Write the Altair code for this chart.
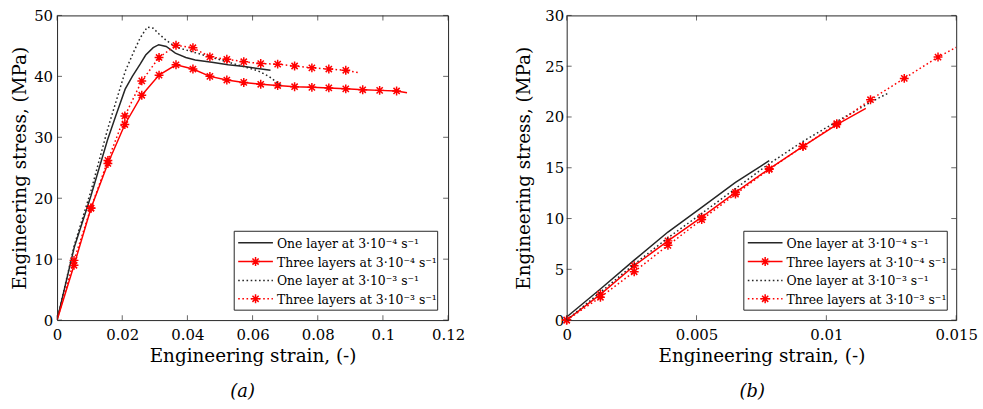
import altair as alt
import pandas as pd

FONT = "DejaVu Serif"
INK = "#262626"
RED = "#ff0000"

# ---------------- Panel (a): full tensile curves ----------------
a_one_slow_strain = [0, 0.0053, 0.0104, 0.0155, 0.018, 0.0209, 0.0231, 0.0255, 0.0272,
                     0.0295, 0.0312, 0.0335, 0.0363, 0.0395, 0.0424, 0.0475, 0.0525,
                     0.0575, 0.0627, 0.0655]
a_one_slow_stress = [0, 12.0, 20.4, 29.6, 33.5, 37.9, 40.0, 42.0, 43.5,
                     44.7, 45.2, 44.9, 43.8, 43.1, 42.7, 42.3, 41.9,
                     41.6, 41.2, 41.0]

a_one_fast_strain = [0, 0.0053, 0.0104, 0.0155, 0.0209, 0.0235, 0.0255, 0.0277, 0.0295,
                     0.0312, 0.0335, 0.0365, 0.0417, 0.0469, 0.0521, 0.0573, 0.0617,
                     0.065, 0.0678, 0.069]
a_one_fast_stress = [0, 12.3, 21.2, 31.3, 40.8, 44.0, 46.3, 48.1, 47.9,
                     47.0, 45.9, 44.8, 44.0, 43.2, 42.4, 41.6, 40.9,
                     40.0, 38.9, 38.3]

a_three_slow_strain = [0, 0.0052, 0.0104, 0.0156, 0.0208, 0.026, 0.0313, 0.0365, 0.0417,
                       0.0469, 0.0521, 0.0573, 0.0625, 0.0677, 0.0729, 0.0782, 0.0834,
                       0.0886, 0.0938, 0.099, 0.1042, 0.1074]
a_three_slow_stress = [0, 9.0, 18.35, 25.7, 32.1, 36.9, 40.2, 41.9, 41.2,
                       40.0, 39.4, 39.0, 38.7, 38.5, 38.3, 38.2, 38.1,
                       37.95, 37.8, 37.7, 37.6, 37.3]
a_three_slow_marked = [False] + [True] * 20 + [False]

a_three_fast_strain = [0, 0.0052, 0.0104, 0.0156, 0.0208, 0.026, 0.0313, 0.0365, 0.0417,
                       0.0469, 0.0521, 0.0573, 0.0625, 0.0677, 0.0729, 0.0782, 0.0834,
                       0.0886, 0.0927]
a_three_fast_stress = [0, 9.8, 18.4, 26.2, 33.5, 39.25, 43.1, 45.1, 44.7,
                       43.2, 42.8, 42.4, 42.1, 42.0, 41.7, 41.4, 41.2,
                       41.0, 40.6]
a_three_fast_marked = [False] + [True] * 17 + [False]

# ---------------- Panel (b): elastic region ----------------
b_one_slow_strain = [0, 0.0013, 0.0026, 0.0039, 0.0052, 0.0065, 0.0078]
b_one_slow_stress = [0.3, 3.06, 5.9, 8.67, 11.1, 13.55, 15.7]

b_one_fast_strain = [0, 0.0013, 0.0026, 0.0039, 0.0052, 0.0065, 0.0078, 0.0091,
                     0.0104, 0.0117, 0.01238]
b_one_fast_stress = [0, 2.75, 5.5, 8.1, 10.5, 12.95, 15.4, 17.6, 19.55, 21.45, 22.35]

b_three_slow_strain = [0, 0.0013, 0.0026, 0.0039, 0.0052, 0.0065, 0.0078, 0.0091,
                       0.0104, 0.01152]
b_three_slow_stress = [0, 2.54, 5.35, 7.8, 10.13, 12.58, 14.9, 17.1, 19.25, 20.85]
b_three_slow_marked = [True] * 9 + [False]

b_three_fast_strain = [0, 0.0013, 0.0026, 0.0039, 0.0052, 0.0065, 0.0078, 0.0091,
                       0.0104, 0.0117, 0.013, 0.0143, 0.015]
b_three_fast_stress = [0, 2.25, 4.76, 7.36, 9.9, 12.4, 14.85, 17.1, 19.35, 21.7,
                       23.8, 25.9, 26.85]
b_three_fast_marked = [True] * 12 + [False]

legend_labels = [
    "One layer at 3·10⁻⁴ s⁻¹",
    "Three layers at 3·10⁻⁴ s⁻¹",
    "One layer at 3·10⁻³ s⁻¹",
    "Three layers at 3·10⁻³ s⁻¹",
]

a_xticks = [0, 0.02, 0.04, 0.06, 0.08, 0.1, 0.12]
a_yticks = [0, 10, 20, 30, 40, 50]
b_xticks = [0, 0.005, 0.01, 0.015]
b_yticks = [0, 5, 10, 15, 20, 25, 30]

# MATLAB-like '*' marker
ASTERISK = "M-1,0L1,0M0,-1L0,1M-0.7,-0.7L0.7,0.7M-0.7,0.7L0.7,-0.7"
DOT = [1.6, 2.6]

STYLES = [
    dict(color=INK, dash=None, marker=False),
    dict(color=RED, dash=None, marker=True),
    dict(color=INK, dash=DOT, marker=False),
    dict(color=RED, dash=DOT, marker=True),
]


def one_row():
    return pd.DataFrame({"k": [0]})


def panel(W, H, xdom, ydom, xticks, yticks, curves, tag, tag_x, ylab_pad, ytitle_x):
    xs = alt.Scale(domain=xdom, nice=False, zero=False)
    ys = alt.Scale(domain=ydom, nice=False, zero=False)
    x_axis = alt.Axis(values=xticks, format=".12~g", title="Engineering strain, (-)",
                      labelPadding=8, titleY=42, titleBaseline="alphabetic")
    y_axis = alt.Axis(values=yticks, format=".12~g", title="Engineering stress, (MPa)",
                      labelPadding=ylab_pad, titleX=ytitle_x, titleBaseline="alphabetic")

    def X(field):
        return alt.X(field, scale=xs, axis=x_axis)

    def Y(field):
        return alt.Y(field, scale=ys, axis=y_axis)

    layers = []
    for (strain, stress, marked), st in zip(curves, STYLES):
        df = pd.DataFrame({"strain": strain, "stress": stress,
                           "marked": marked if marked is not None else [False] * len(strain)})
        line_kw = dict(color=st["color"], strokeWidth=1.5, clip=True)
        if st["dash"]:
            line_kw["strokeDash"] = st["dash"]
        layers.append(alt.Chart(df).mark_line(**line_kw)
                      .encode(x=X("strain:Q"), y=Y("stress:Q")))
        if st["marker"]:
            layers.append(
                alt.Chart(df).transform_filter("datum.marked").mark_point(
                    shape=ASTERISK, size=80, filled=False, color=st["color"],
                    strokeWidth=1.5, opacity=1
                ).encode(x=X("strain:Q"), y=Y("stress:Q"))
            )

    # inward ticks on all four sides
    xt = pd.DataFrame({"strain": xticks})
    yt = pd.DataFrame({"stress": yticks})
    for yy in (H - 2.5, 2.5):
        layers.append(alt.Chart(xt).mark_tick(orient="vertical", size=5, thickness=1, color=INK)
                      .encode(x=X("strain:Q"), y=alt.value(yy)))
    for xx in (2.5, W - 2.5):
        layers.append(alt.Chart(yt).mark_tick(orient="horizontal", size=5, thickness=1, color=INK)
                      .encode(y=Y("stress:Q"), x=alt.value(xx)))

    # legend box
    lx0, lx1, ly0, ly1 = 178.5, 383.5, 217.5, 297
    layers.append(alt.Chart(one_row()).mark_rect(fill="white", stroke=INK, strokeWidth=1)
                  .encode(x=alt.value(lx0), x2=alt.value(lx1), y=alt.value(ly0), y2=alt.value(ly1)))
    rows = [229, 248, 267, 285.5]
    for label, st, ry in zip(legend_labels, STYLES, rows):
        rk = dict(color=st["color"], strokeWidth=1.5)
        if st["dash"]:
            rk["strokeDash"] = st["dash"]
        layers.append(alt.Chart(one_row()).mark_rule(**rk)
                      .encode(x=alt.value(182.5), x2=alt.value(217.5), y=alt.value(ry)))
        if st["marker"]:
            layers.append(alt.Chart(one_row()).mark_point(
                shape=ASTERISK, size=80, filled=False, color=st["color"], strokeWidth=1.5, opacity=1)
                .encode(x=alt.value(200), y=alt.value(ry)))
        layers.append(alt.Chart(one_row()).mark_text(
            text=label, font=FONT, fontSize=12.5, color="black", align="left", baseline="middle")
            .encode(x=alt.value(221.5), y=alt.value(ry + 1)))

    # panel tag below the axis title
    layers.append(alt.Chart(one_row()).mark_text(
        text=tag, font=FONT, fontSize=18, fontStyle="italic", color="black",
        align="center", baseline="alphabetic")
        .encode(x=alt.value(tag_x), y=alt.value(384)))

    return alt.layer(*layers).properties(width=W, height=H)


left = panel(
    394, 307, [0, 0.12], [0, 50], a_xticks, a_yticks,
    [
        (a_one_slow_strain, a_one_slow_stress, None),
        (a_three_slow_strain, a_three_slow_stress, a_three_slow_marked),
        (a_one_fast_strain, a_one_fast_stress, None),
        (a_three_fast_strain, a_three_fast_stress, a_three_fast_marked),
    ],
    "(a)", 187, 4.5, -31.5,
)

right = panel(
    392.5, 307, [0, 0.015], [0, 30], b_xticks, b_yticks,
    [
        (b_one_slow_strain, b_one_slow_stress, None),
        (b_three_slow_strain, b_three_slow_stress, b_three_slow_marked),
        (b_one_fast_strain, b_one_fast_stress, None),
        (b_three_fast_strain, b_three_fast_stress, b_three_fast_marked),
    ],
    "(b)", 187, 3, -37.5,
)

chart = (
    alt.hconcat(left, right, spacing=48.5)
    .properties(padding={"left": 10.5, "top": 6, "right": 5, "bottom": 0}, background="white")
    .configure_view(stroke=INK, strokeWidth=1)
    .configure_axis(
        labelFont=FONT, titleFont=FONT, labelFontSize=15, titleFontSize=18.5,
        labelColor="black", titleColor="black", titleFontWeight="normal",
        domain=False, ticks=False, grid=False, labelFlush=False, labelOverlap=False,
    )
)

chart.save("out.html", embed_options={"renderer": "svg", "actions": False})
